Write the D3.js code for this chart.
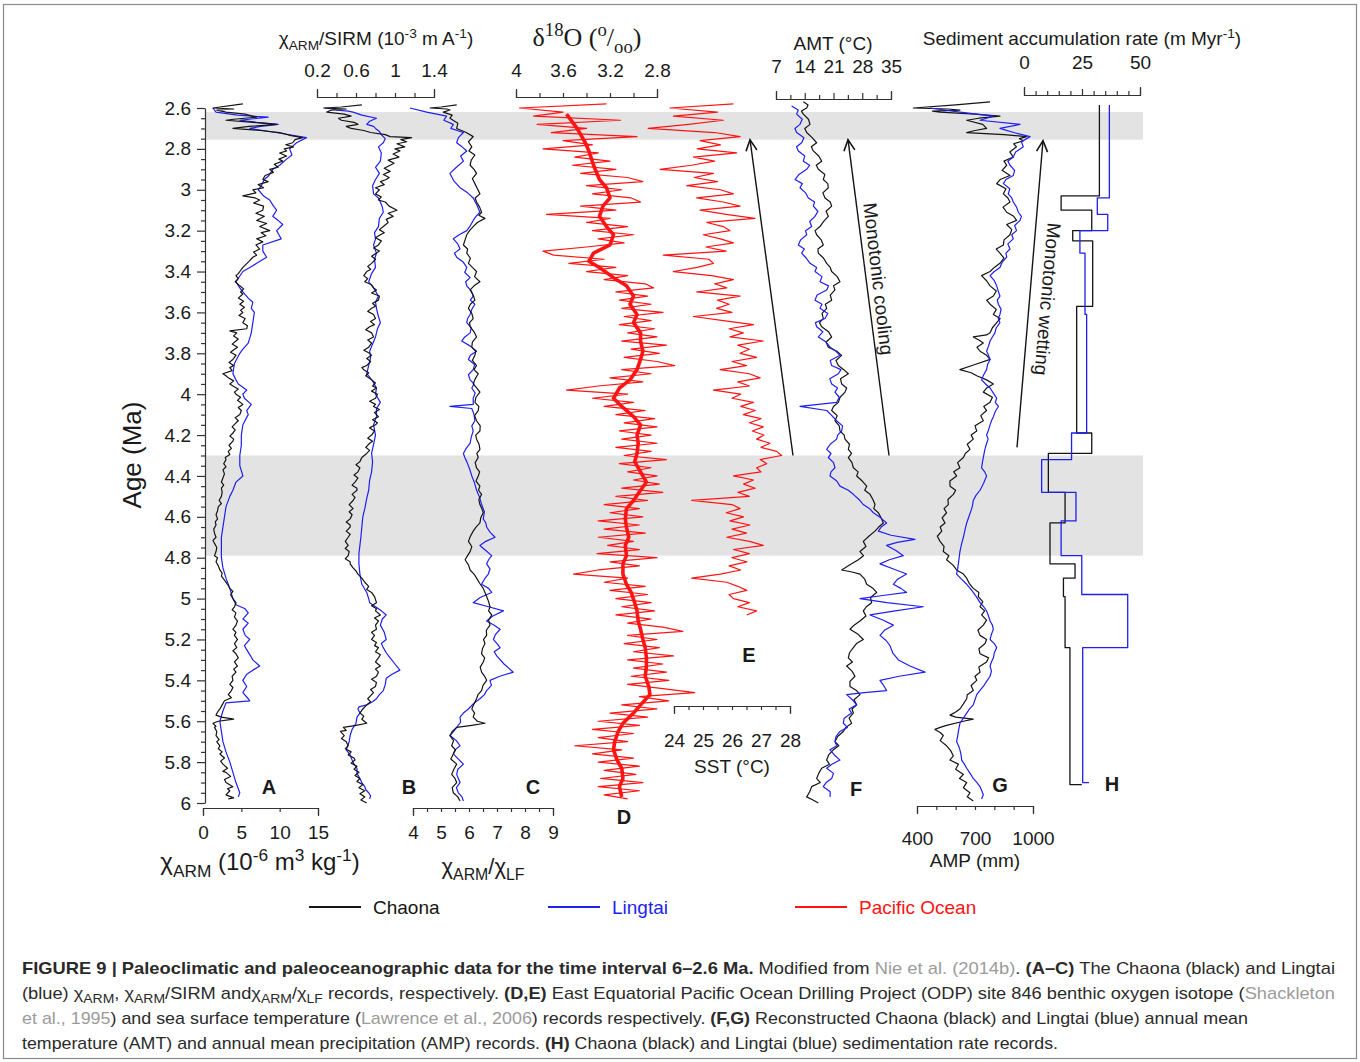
<!DOCTYPE html>
<html>
<head>
<meta charset="utf-8">
<script src="https://cdn.jsdelivr.net/npm/d3@7"></script>
<style>
  body { margin: 0; background: #fff; }
  svg { display: block; }
  text { font-family: "Liberation Sans", Arial, Helvetica, sans-serif; fill: #1a1a1a; }
</style>
</head>
<body>
<svg id="fig" width="1360" height="1062"></svg>
<script>
// ---------------------------------------------------------------
// Records, 6–2.6 Ma.  Each record: [age (Ma), value]
// ---------------------------------------------------------------

// (A) χARM, 10^-6 m3 kg-1
const chaonaARM = [[2.58,5.2],[2.60,1.3],[2.605,4.0],[2.61,1.8],[2.62,3.0],[2.63,5.5],[2.645,7.0],[2.655,4.0],[2.66,3.0],[2.67,6.5],[2.68,9.6],[2.69,6.0],[2.70,3.9],[2.71,7.5],[2.72,10.0],[2.735,11.5],[2.745,13.0],[2.755,12.0],[2.77,11.7],[2.78,10.8],[2.79,11.8],[2.80,10.6],[2.81,10.9],[2.82,10.0],[2.835,10.9],[2.85,9.9],[2.86,10.4],[2.875,9.3],[2.89,9.8],[2.90,8.7],[2.915,9.2],[2.93,8.1],[2.95,7.8],[2.96,8.5],[2.975,7.2],[2.99,7.9],[3.0,6.5],[3.015,6.9],[3.03,5.2],[3.04,6.8],[3.05,7.4],[3.065,6.6],[3.08,7.9],[3.10,7.8],[3.115,6.9],[3.13,8.0],[3.15,7.0],[3.165,8.3],[3.18,7.4],[3.20,8.7],[3.21,7.6],[3.225,8.2],[3.24,7.0],[3.255,7.8],[3.27,6.9],[3.29,7.4],[3.305,6.6],[3.32,7.0],[3.33,6.5],[3.35,6.0],[3.365,5.6],[3.38,5.2],[3.395,4.9],[3.41,4.6],[3.42,4.3],[3.435,4.6],[3.45,4.2],[3.47,4.8],[3.485,5.3],[3.50,4.9],[3.51,5.2],[3.53,4.6],[3.545,5.3],[3.56,4.8],[3.575,5.4],[3.59,4.9],[3.60,5.2],[3.615,4.7],[3.63,5.5],[3.65,5.2],[3.665,5.8],[3.68,5.7],[3.69,3.5],[3.70,4.4],[3.715,4.0],[3.73,4.6],[3.74,4.3],[3.755,3.8],[3.77,4.5],[3.78,4.1],[3.795,3.6],[3.81,4.3],[3.83,3.9],[3.845,3.4],[3.86,4.0],[3.87,3.5],[3.885,3.8],[3.90,2.6],[3.91,3.0],[3.92,3.3],[3.935,4.0],[3.95,3.5],[3.96,3.9],[3.975,4.6],[3.99,4.1],[4.0,4.3],[4.015,4.9],[4.03,4.5],[4.05,5.2],[4.065,4.6],[4.08,5.0],[4.1,4.8],[4.115,4.2],[4.13,4.6],[4.14,4.3],[4.16,3.8],[4.175,4.2],[4.19,3.9],[4.205,3.5],[4.22,4.0],[4.23,3.9],[4.25,3.4],[4.265,3.7],[4.28,3.3],[4.295,3.5],[4.31,2.9],[4.32,3.0],[4.34,2.7],[4.355,3.0],[4.37,2.6],[4.39,2.8],[4.41,2.6],[4.43,2.4],[4.445,2.7],[4.46,2.4],[4.48,2.5],[4.50,2.4],[4.52,2.1],[4.535,2.4],[4.55,2.0],[4.57,1.9],[4.59,1.7],[4.61,1.9],[4.625,1.6],[4.64,1.7],[4.66,1.4],[4.68,1.5],[4.70,1.7],[4.715,1.3],[4.73,1.5],[4.75,1.8],[4.77,1.7],[4.79,1.5],[4.80,1.9],[4.82,1.7],[4.84,2.0],[4.86,2.2],[4.875,2.5],[4.89,2.4],[4.91,2.8],[4.93,3.2],[4.95,3.5],[4.965,3.9],[4.98,3.6],[5.0,3.9],[5.02,4.3],[5.04,4.1],[5.055,3.8],[5.07,4.3],[5.09,4.1],[5.11,4.5],[5.13,4.3],[5.15,3.9],[5.165,4.3],[5.18,4.1],[5.20,4.5],[5.22,4.1],[5.24,4.4],[5.255,3.9],[5.27,4.3],[5.29,4.6],[5.31,4.1],[5.33,4.5],[5.345,4.0],[5.36,4.3],[5.38,3.8],[5.40,3.9],[5.42,3.5],[5.435,3.9],[5.45,3.7],[5.47,3.3],[5.485,3.7],[5.50,2.8],[5.52,2.5],[5.54,2.2],[5.555,1.9],[5.57,1.7],[5.58,2.4],[5.59,4.0],[5.60,2.0],[5.61,1.3],[5.625,1.7],[5.63,1.5],[5.65,1.8],[5.67,1.7],[5.69,2.1],[5.70,1.8],[5.72,2.2],[5.735,2.0],[5.75,2.5],[5.76,2.2],[5.78,2.8],[5.795,2.3],[5.81,2.6],[5.83,3.2],[5.845,2.6],[5.85,3.0],[5.87,3.6],[5.885,2.8],[5.90,3.0],[5.92,3.9],[5.93,3.2],[5.94,3.5],[5.96,3.0],[5.975,4.0],[5.98,3.3]];
const lingtaiARM = [[2.60,1.3],[2.62,1.7],[2.635,4.5],[2.645,8.5],[2.655,6.0],[2.66,4.8],[2.67,7.0],[2.68,9.8],[2.69,7.5],[2.70,6.1],[2.72,9.5],[2.745,13.5],[2.77,12.2],[2.80,11.3],[2.83,11.6],[2.85,10.9],[2.88,10.0],[2.9,9.1],[2.93,8.6],[2.95,8.0],[2.98,7.6],[3.0,7.2],[3.03,7.9],[3.05,8.7],[3.08,9.2],[3.1,9.6],[3.13,9.1],[3.15,9.8],[3.17,10.4],[3.2,9.6],[3.22,9.9],[3.24,10.2],[3.27,7.8],[3.3,7.8],[3.33,8.3],[3.36,7.0],[3.38,6.1],[3.4,5.2],[3.45,4.3],[3.48,4.8],[3.5,5.2],[3.53,5.9],[3.55,6.5],[3.58,6.3],[3.6,6.7],[3.65,6.5],[3.7,6.3],[3.75,5.9],[3.78,5.2],[3.8,4.8],[3.85,4.1],[3.9,3.9],[3.93,4.3],[3.95,4.6],[3.98,5.7],[4.0,5.2],[4.02,5.4],[4.05,6.3],[4.08,5.7],[4.1,5.9],[4.15,5.2],[4.2,5.0],[4.25,5.0],[4.3,4.8],[4.35,4.8],[4.4,5.2],[4.43,4.3],[4.47,3.9],[4.5,3.5],[4.55,3.0],[4.6,2.8],[4.65,2.6],[4.7,2.4],[4.75,2.4],[4.8,2.4],[4.85,2.6],[4.9,3.0],[4.95,3.5],[5.0,3.9],[5.03,4.3],[5.05,5.5],[5.07,5.9],[5.1,5.2],[5.12,5.9],[5.15,5.2],[5.18,5.5],[5.2,6.1],[5.23,5.4],[5.25,5.7],[5.28,6.2],[5.3,6.5],[5.33,7.4],[5.35,6.5],[5.37,5.7],[5.4,5.2],[5.43,5.7],[5.46,5.2],[5.49,5.9],[5.5,6.1],[5.51,3.0],[5.55,2.6],[5.6,2.2],[5.65,2.4],[5.7,2.6],[5.75,3.0],[5.8,3.5],[5.85,3.9],[5.9,4.3],[5.93,4.6],[5.95,4.8],[5.97,4.6]];

// (B) χARM/SIRM, 10^-3 m A-1
const chaonaSIRM = [[2.585,0.66],[2.595,0.45],[2.60,0.27],[2.605,0.50],[2.61,0.35],[2.62,0.30],[2.63,0.48],[2.64,0.55],[2.65,0.42],[2.66,0.45],[2.67,0.58],[2.68,0.62],[2.69,0.50],[2.70,0.55],[2.71,0.68],[2.72,0.75],[2.73,0.90],[2.74,0.95],[2.745,1.17],[2.755,1.06],[2.765,1.12],[2.775,1.02],[2.79,1.10],[2.80,1.00],[2.81,1.05],[2.825,0.98],[2.84,1.04],[2.855,0.93],[2.87,0.99],[2.88,0.95],[2.895,0.89],[2.91,0.95],[2.925,0.88],[2.94,0.94],[2.95,0.91],[2.96,0.85],[2.975,0.89],[2.99,0.80],[3.00,0.84],[3.02,0.80],[3.035,0.86],[3.05,0.83],[3.06,0.90],[3.08,0.94],[3.10,1.02],[3.115,0.93],[3.13,0.98],[3.145,0.91],[3.16,0.93],[3.18,0.88],[3.195,0.84],[3.21,0.89],[3.22,0.85],[3.235,0.80],[3.25,0.86],[3.27,0.83],[3.285,0.78],[3.30,0.84],[3.31,0.81],[3.325,0.76],[3.34,0.80],[3.36,0.76],[3.375,0.72],[3.39,0.75],[3.40,0.71],[3.42,0.68],[3.435,0.72],[3.45,0.69],[3.465,0.76],[3.48,0.78],[3.49,0.81],[3.505,0.76],[3.52,0.84],[3.54,0.83],[3.555,0.77],[3.57,0.80],[3.58,0.76],[3.595,0.72],[3.61,0.78],[3.63,0.80],[3.645,0.75],[3.66,0.79],[3.67,0.74],[3.685,0.70],[3.70,0.76],[3.72,0.78],[3.735,0.72],[3.75,0.76],[3.77,0.73],[3.785,0.68],[3.80,0.74],[3.81,0.76],[3.825,0.71],[3.84,0.75],[3.86,0.71],[3.87,0.66],[3.88,0.68],[3.895,0.73],[3.91,0.70],[3.93,0.76],[3.945,0.80],[3.96,0.77],[3.97,0.81],[3.985,0.76],[4.00,0.82],[4.02,0.80],[4.035,0.74],[4.05,0.80],[4.06,0.78],[4.075,0.84],[4.09,0.79],[4.11,0.83],[4.125,0.77],[4.14,0.82],[4.15,0.80],[4.165,0.74],[4.18,0.79],[4.20,0.76],[4.215,0.72],[4.23,0.77],[4.24,0.74],[4.26,0.70],[4.275,0.74],[4.29,0.71],[4.31,0.66],[4.33,0.64],[4.345,0.60],[4.36,0.64],[4.38,0.62],[4.395,0.58],[4.41,0.62],[4.43,0.59],[4.445,0.56],[4.46,0.61],[4.47,0.61],[4.49,0.56],[4.505,0.59],[4.52,0.57],[4.54,0.53],[4.56,0.57],[4.575,0.53],[4.59,0.56],[4.61,0.54],[4.625,0.50],[4.64,0.54],[4.65,0.54],[4.67,0.50],[4.685,0.54],[4.70,0.52],[4.72,0.49],[4.74,0.52],[4.755,0.49],[4.77,0.53],[4.79,0.52],[4.805,0.49],[4.82,0.54],[4.83,0.54],[4.85,0.57],[4.865,0.60],[4.88,0.62],[4.90,0.66],[4.92,0.69],[4.94,0.73],[4.955,0.71],[4.97,0.76],[4.99,0.79],[5.02,0.81],[5.035,0.76],[5.05,0.81],[5.06,0.80],[5.08,0.85],[5.095,0.79],[5.11,0.83],[5.13,0.80],[5.15,0.81],[5.165,0.76],[5.18,0.79],[5.20,0.76],[5.215,0.81],[5.23,0.79],[5.24,0.83],[5.26,0.80],[5.275,0.85],[5.29,0.83],[5.31,0.80],[5.33,0.85],[5.345,0.80],[5.36,0.83],[5.38,0.81],[5.395,0.76],[5.41,0.81],[5.43,0.80],[5.445,0.75],[5.46,0.78],[5.47,0.76],[5.49,0.72],[5.505,0.75],[5.52,0.71],[5.54,0.67],[5.56,0.64],[5.575,0.68],[5.59,0.66],[5.61,0.71],[5.62,0.60],[5.63,0.47],[5.645,0.50],[5.65,0.44],[5.67,0.48],[5.685,0.45],[5.70,0.50],[5.72,0.52],[5.735,0.49],[5.75,0.55],[5.765,0.52],[5.78,0.58],[5.79,0.59],[5.805,0.55],[5.82,0.61],[5.835,0.58],[5.85,0.63],[5.865,0.59],[5.88,0.64],[5.895,0.61],[5.91,0.67],[5.925,0.63],[5.94,0.69],[5.955,0.64],[5.97,0.69],[5.985,0.65],[6.00,0.71]];
const lingtaiSIRM = [[2.60,0.28],[2.605,0.36],[2.61,0.40],[2.615,0.52],[2.62,0.57],[2.635,0.66],[2.65,0.81],[2.665,0.74],[2.68,0.71],[2.69,0.78],[2.70,0.80],[2.715,0.84],[2.73,0.86],[2.75,0.90],[2.77,0.88],[2.79,0.83],[2.82,0.86],[2.86,0.85],[2.89,0.80],[2.92,0.84],[2.95,0.80],[2.98,0.77],[3.02,0.78],[3.04,0.83],[3.06,0.85],[3.085,0.87],[3.11,0.88],[3.14,0.84],[3.18,0.83],[3.21,0.79],[3.24,0.80],[3.27,0.78],[3.31,0.81],[3.34,0.79],[3.38,0.80],[3.41,0.76],[3.45,0.73],[3.48,0.78],[3.52,0.83],[3.55,0.80],[3.58,0.81],[3.62,0.83],[3.65,0.85],[3.68,0.82],[3.72,0.80],[3.755,0.77],[3.79,0.74],[3.82,0.75],[3.86,0.73],[3.90,0.71],[3.935,0.77],[3.97,0.81],[4.00,0.80],[4.04,0.85],[4.07,0.81],[4.11,0.81],[4.15,0.78],[4.20,0.80],[4.245,0.78],[4.29,0.76],[4.33,0.77],[4.38,0.76],[4.42,0.74],[4.47,0.73],[4.51,0.71],[4.56,0.69],[4.60,0.67],[4.65,0.66],[4.70,0.65],[4.74,0.64],[4.78,0.63],[4.83,0.63],[4.88,0.64],[4.93,0.66],[4.97,0.71],[5.00,0.73],[5.02,0.74],[5.04,0.80],[5.06,0.86],[5.08,0.91],[5.10,0.87],[5.13,0.85],[5.165,0.89],[5.20,0.91],[5.22,0.86],[5.24,0.88],[5.265,0.91],[5.29,0.95],[5.32,1.00],[5.35,1.05],[5.37,0.97],[5.39,0.91],[5.42,0.90],[5.45,0.88],[5.47,0.84],[5.49,0.81],[5.505,0.77],[5.52,0.71],[5.53,0.63],[5.54,0.62],[5.56,0.64],[5.58,0.61],[5.61,0.60],[5.64,0.56],[5.67,0.54],[5.70,0.53],[5.74,0.50],[5.765,0.54],[5.79,0.56],[5.81,0.58],[5.83,0.61],[5.855,0.61],[5.88,0.64],[5.90,0.66],[5.92,0.69],[5.935,0.70],[5.95,0.73],[5.965,0.75],[5.98,0.74]];

// (C) χARM/χLF
const chaonaLF = [[2.585,5.56],[2.595,5.0],[2.60,4.61],[2.605,5.2],[2.61,5.32],[2.62,5.08],[2.635,5.4],[2.65,5.32],[2.675,5.6],[2.70,5.56],[2.72,5.9],[2.74,6.15],[2.765,5.98],[2.79,6.10],[2.81,6.0],[2.83,6.21],[2.855,6.08],[2.88,6.04],[2.90,6.18],[2.92,6.27],[2.945,6.12],[2.97,6.21],[2.995,6.30],[3.02,6.39],[3.04,6.22],[3.06,6.27],[3.085,6.38],[3.11,6.45],[3.125,6.35],[3.14,6.57],[3.16,6.30],[3.18,6.15],[3.20,6.02],[3.22,5.92],[3.245,5.86],[3.27,5.80],[3.29,5.95],[3.31,5.92],[3.335,6.05],[3.36,5.98],[3.38,6.12],[3.40,6.27],[3.425,6.20],[3.45,6.39],[3.47,6.18],[3.49,6.04],[3.515,6.15],[3.54,6.21],[3.56,6.05],[3.58,5.98],[3.605,6.10],[3.63,6.15],[3.65,6.02],[3.67,6.04],[3.695,6.18],[3.72,6.27],[3.745,6.12],[3.77,6.10],[3.79,6.24],[3.81,6.21],[3.835,6.12],[3.86,6.27],[3.88,6.18],[3.90,6.33],[3.925,6.22],[3.95,6.15],[3.97,6.28],[3.99,6.39],[4.015,6.25],[4.04,6.21],[4.06,6.35],[4.08,6.33],[4.105,6.20],[4.13,6.27],[4.155,6.40],[4.18,6.39],[4.20,6.24],[4.22,6.27],[4.245,6.36],[4.27,6.39],[4.29,6.28],[4.31,6.33],[4.335,6.22],[4.36,6.27],[4.38,6.38],[4.40,6.33],[4.425,6.25],[4.45,6.39],[4.47,6.34],[4.49,6.45],[4.515,6.35],[4.54,6.39],[4.56,6.46],[4.58,6.51],[4.605,6.42],[4.63,6.39],[4.65,6.25],[4.67,6.15],[4.695,6.05],[4.72,5.98],[4.745,6.10],[4.77,6.04],[4.79,5.95],[4.81,5.86],[4.835,5.98],[4.86,6.04],[4.88,6.18],[4.90,6.27],[4.925,6.38],[4.95,6.51],[4.97,6.57],[4.99,6.63],[5.015,6.70],[5.04,6.75],[5.06,6.70],[5.08,6.81],[5.105,6.70],[5.13,6.75],[5.155,6.62],[5.18,6.63],[5.20,6.52],[5.22,6.57],[5.245,6.48],[5.27,6.45],[5.29,6.56],[5.31,6.51],[5.335,6.40],[5.36,6.45],[5.38,6.56],[5.40,6.63],[5.425,6.50],[5.45,6.45],[5.47,6.32],[5.49,6.27],[5.515,6.18],[5.54,6.10],[5.56,6.20],[5.58,6.15],[5.60,6.30],[5.61,6.57],[5.62,6.10],[5.63,5.56],[5.65,5.40],[5.67,5.32],[5.695,5.45],[5.72,5.38],[5.74,5.52],[5.76,5.44],[5.785,5.35],[5.81,5.56],[5.835,5.46],[5.86,5.38],[5.88,5.50],[5.90,5.56],[5.925,5.40],[5.95,5.44],[5.97,5.60],[5.99,5.68]];
const lingtaiLF = [[2.60,3.89],[2.62,4.49],[2.64,5.20],[2.66,5.10],[2.68,5.44],[2.70,5.35],[2.72,5.80],[2.745,5.62],[2.77,5.56],[2.79,5.75],[2.81,5.92],[2.835,5.70],[2.86,5.80],[2.89,5.55],[2.92,5.32],[2.955,5.45],[2.99,5.68],[3.015,5.95],[3.04,6.15],[3.075,6.28],[3.11,6.39],[3.13,6.25],[3.15,6.15],[3.175,6.05],[3.20,5.92],[3.22,5.65],[3.24,5.44],[3.265,5.60],[3.29,5.68],[3.31,5.48],[3.33,5.56],[3.355,5.80],[3.38,5.92],[3.405,5.85],[3.43,6.04],[3.45,5.88],[3.47,5.92],[3.495,6.08],[3.52,6.15],[3.54,6.05],[3.56,6.21],[3.585,6.10],[3.61,6.04],[3.63,5.95],[3.65,5.92],[3.675,6.08],[3.70,6.04],[3.72,5.85],[3.74,5.74],[3.765,6.05],[3.79,6.27],[3.81,6.05],[3.83,5.98],[3.855,6.20],[3.88,6.15],[3.905,5.98],[3.93,6.04],[3.95,6.18],[3.97,6.10],[3.995,6.22],[4.02,6.15],[4.05,6.15],[4.06,5.32],[4.07,6.10],[4.10,6.18],[4.13,6.21],[4.155,6.10],[4.18,6.15],[4.21,6.08],[4.24,6.04],[4.265,5.90],[4.29,5.80],[4.31,5.85],[4.33,5.92],[4.365,6.02],[4.40,6.10],[4.435,6.20],[4.47,6.27],[4.505,6.38],[4.54,6.45],[4.575,6.55],[4.61,6.51],[4.63,6.60],[4.65,6.63],[4.675,6.75],[4.70,6.93],[4.72,6.60],[4.74,6.39],[4.765,6.60],[4.79,6.81],[4.81,6.70],[4.83,6.63],[4.855,6.75],[4.88,6.69],[4.905,6.55],[4.93,6.45],[4.95,6.70],[4.97,6.81],[4.995,6.40],[5.02,6.15],[5.04,6.70],[5.06,7.23],[5.085,6.85],[5.11,6.63],[5.13,6.90],[5.15,7.11],[5.175,6.95],[5.20,6.87],[5.22,7.00],[5.24,7.11],[5.26,6.90],[5.28,6.99],[5.32,7.25],[5.36,7.58],[5.38,7.10],[5.40,6.75],[5.425,6.80],[5.45,6.63],[5.47,6.55],[5.49,6.39],[5.515,6.15],[5.54,5.98],[5.56,5.80],[5.58,5.68],[5.605,5.70],[5.63,5.56],[5.65,5.45],[5.67,5.32],[5.695,5.55],[5.72,5.68],[5.74,5.50],[5.76,5.44],[5.785,5.62],[5.81,5.80],[5.835,5.60],[5.86,5.56],[5.88,5.62],[5.90,5.68],[5.925,5.55],[5.95,5.62],[5.97,5.75],[5.99,5.80]];

// (D) ODP 846 benthic δ18O (‰): measured record and its running mean
const d18oRaw = [[2.58,3.23],[2.60,3.97],[2.62,3.60],[2.64,3.85],[2.66,3.11],[2.68,3.82],[2.70,3.40],[2.72,3.70],[2.74,2.97],[2.76,3.60],[2.78,3.35],[2.80,3.77],[2.82,3.30],[2.84,3.50],[2.86,3.20],[2.88,3.52],[2.90,3.15],[2.92,3.45],[2.94,3.05],[2.96,2.92],[2.98,3.40],[3.00,3.10],[3.02,3.35],[3.04,3.02],[3.06,2.94],[3.08,3.45],[3.10,3.15],[3.12,3.74],[3.14,3.20],[3.16,3.40],[3.18,3.05],[3.20,3.35],[3.22,3.00],[3.24,3.30],[3.26,3.08],[3.28,3.40],[3.30,3.77],[3.32,3.68],[3.34,3.25],[3.36,3.55],[3.38,3.15],[3.40,3.40],[3.42,3.05],[3.44,3.25],[3.46,2.90],[3.48,2.83],[3.50,3.15],[3.52,2.88],[3.54,3.12],[3.56,2.85],[3.58,3.10],[3.60,2.75],[3.62,3.08],[3.64,2.85],[3.66,3.12],[3.68,2.82],[3.70,3.05],[3.72,2.80],[3.74,3.10],[3.76,2.72],[3.78,3.02],[3.80,2.78],[3.82,3.08],[3.84,2.80],[3.86,2.65],[3.88,3.10],[3.90,2.85],[3.92,3.20],[3.94,2.92],[3.96,3.30],[3.98,3.57],[4.00,3.05],[4.02,3.35],[4.04,3.00],[4.06,3.25],[4.08,2.90],[4.10,3.15],[4.12,2.82],[4.14,3.08],[4.16,2.80],[4.18,3.12],[4.20,2.85],[4.22,3.10],[4.24,2.80],[4.26,3.15],[4.28,2.85],[4.30,3.08],[4.32,2.72],[4.34,3.12],[4.36,2.85],[4.38,3.05],[4.40,2.80],[4.42,3.00],[4.44,2.78],[4.46,3.10],[4.48,2.75],[4.50,3.15],[4.52,2.88],[4.54,3.25],[4.56,2.95],[4.58,3.20],[4.60,2.92],[4.62,3.30],[4.64,2.95],[4.66,3.25],[4.68,2.90],[4.70,3.30],[4.72,3.00],[4.74,3.22],[4.76,2.95],[4.78,3.31],[4.80,2.80],[4.82,3.20],[4.84,2.95],[4.86,3.30],[4.88,3.51],[4.90,3.05],[4.92,3.25],[4.94,2.90],[4.96,3.20],[4.98,2.88],[5.00,3.15],[5.02,2.85],[5.04,3.10],[5.06,2.82],[5.08,3.15],[5.10,2.85],[5.12,3.05],[5.14,2.75],[5.16,2.58],[5.18,3.05],[5.20,2.80],[5.22,3.08],[5.24,2.78],[5.26,3.00],[5.28,2.66],[5.30,3.05],[5.32,2.75],[5.34,3.00],[5.36,2.72],[5.38,3.02],[5.40,2.70],[5.42,3.05],[5.44,2.75],[5.46,2.48],[5.48,2.95],[5.50,2.70],[5.52,3.10],[5.54,2.80],[5.56,3.20],[5.58,2.88],[5.60,3.30],[5.62,2.95],[5.64,3.35],[5.66,3.00],[5.68,3.30],[5.70,3.05],[5.72,3.50],[5.74,3.10],[5.76,3.35],[5.78,3.00],[5.80,3.30],[5.82,2.95],[5.84,3.25],[5.86,2.98],[5.88,3.28],[5.90,2.92],[5.92,3.30],[5.94,2.95],[5.96,3.25],[5.98,3.05]];
const d18oMean = [[2.63,3.57],[2.70,3.48],[2.77,3.41],[2.81,3.38],[2.88,3.34],[2.95,3.29],[2.99,3.23],[3.04,3.20],[3.08,3.26],[3.13,3.29],[3.18,3.23],[3.22,3.17],[3.27,3.20],[3.31,3.34],[3.35,3.38],[3.38,3.29],[3.43,3.17],[3.47,3.06],[3.52,3.00],[3.56,3.03],[3.61,2.97],[3.65,3.00],[3.70,2.94],[3.74,2.94],[3.79,2.92],[3.83,2.94],[3.88,2.97],[3.93,3.03],[3.97,3.12],[4.02,3.17],[4.06,3.10],[4.11,3.00],[4.15,2.94],[4.20,2.97],[4.24,2.96],[4.29,2.97],[4.33,2.99],[4.38,2.94],[4.43,2.89],[4.47,2.94],[4.52,3.00],[4.56,3.06],[4.61,3.07],[4.65,3.06],[4.70,3.04],[4.74,3.07],[4.79,3.06],[4.83,3.09],[4.88,3.09],[4.93,3.06],[4.97,3.02],[5.02,2.99],[5.06,2.97],[5.11,2.96],[5.15,2.94],[5.20,2.92],[5.24,2.90],[5.29,2.89],[5.33,2.89],[5.38,2.90],[5.43,2.87],[5.47,2.86],[5.52,2.94],[5.56,3.00],[5.61,3.09],[5.65,3.13],[5.70,3.16],[5.74,3.17],[5.79,3.14],[5.83,3.10],[5.88,3.09],[5.92,3.12],[5.97,3.10]];

// (E) ODP 846 sea surface temperature (°C)
const sst = [[2.58,26.05],[2.60,23.86],[2.62,25.50],[2.64,23.98],[2.66,25.70],[2.68,24.50],[2.70,23.11],[2.72,25.40],[2.74,26.28],[2.76,24.90],[2.78,25.60],[2.80,24.80],[2.82,26.16],[2.84,24.67],[2.86,25.40],[2.88,24.60],[2.90,23.52],[2.92,25.36],[2.94,24.70],[2.96,25.50],[2.98,24.44],[3.00,25.60],[3.02,26.05],[3.04,24.78],[3.06,25.70],[3.08,26.28],[3.10,24.90],[3.12,25.80],[3.14,26.79],[3.16,25.13],[3.18,25.70],[3.20,25.93],[3.22,25.01],[3.24,25.60],[3.26,26.05],[3.28,25.10],[3.30,25.80],[3.32,23.63],[3.34,25.20],[3.36,25.36],[3.38,24.80],[3.40,23.98],[3.42,25.30],[3.44,26.05],[3.46,25.40],[3.48,25.82],[3.50,24.78],[3.52,26.28],[3.54,25.50],[3.56,25.90],[3.58,25.47],[3.60,26.00],[3.62,24.67],[3.64,25.70],[3.66,26.74],[3.68,25.90],[3.70,26.39],[3.72,25.93],[3.74,27.08],[3.76,26.20],[3.78,26.60],[3.80,26.28],[3.82,26.85],[3.84,26.00],[3.86,26.50],[3.88,25.59],[3.90,26.60],[3.92,26.97],[3.94,26.20],[3.96,26.60],[3.98,25.36],[4.00,26.30],[4.02,26.00],[4.04,26.74],[4.06,26.30],[4.08,26.80],[4.10,26.39],[4.12,27.00],[4.14,26.60],[4.16,27.08],[4.18,26.70],[4.20,27.10],[4.22,26.85],[4.24,27.31],[4.26,27.00],[4.28,27.54],[4.30,27.71],[4.32,26.97],[4.34,27.20],[4.36,26.85],[4.38,27.00],[4.40,26.05],[4.42,26.74],[4.44,26.40],[4.46,26.80],[4.48,26.20],[4.50,26.60],[4.52,24.61],[4.54,26.00],[4.56,26.28],[4.58,25.80],[4.60,26.40],[4.62,25.93],[4.64,26.62],[4.66,26.00],[4.68,26.50],[4.70,25.82],[4.72,26.60],[4.74,27.08],[4.76,26.05],[4.78,26.60],[4.80,26.00],[4.82,26.51],[4.84,25.90],[4.86,26.30],[4.88,25.60],[4.90,24.61],[4.92,25.82],[4.94,26.20],[4.96,26.51],[4.98,25.90],[5.00,26.05],[5.02,26.60],[5.04,26.20],[5.06,26.85],[5.08,26.51]];

// (F) Annual mean temperature (°C)
const chaonaAMT = [[2.57,13.66],[2.585,14.8],[2.60,14.47],[2.615,13.2],[2.63,13.66],[2.655,14.9],[2.68,15.28],[2.70,14.0],[2.72,14.47],[2.745,15.8],[2.77,16.9],[2.79,15.6],[2.81,16.09],[2.835,17.4],[2.86,18.12],[2.88,16.8],[2.90,17.31],[2.925,18.9],[2.95,18.52],[2.97,19.6],[2.99,19.74],[3.015,18.4],[3.04,18.93],[3.06,20.2],[3.08,20.55],[3.105,19.2],[3.13,19.74],[3.155,18.6],[3.18,17.71],[3.20,16.5],[3.22,16.9],[3.245,18.0],[3.27,18.52],[3.29,17.2],[3.31,17.31],[3.335,18.6],[3.36,19.34],[3.38,20.2],[3.40,20.55],[3.425,21.9],[3.45,22.58],[3.47,21.0],[3.49,21.36],[3.515,20.2],[3.54,20.55],[3.56,19.0],[3.58,19.34],[3.605,18.2],[3.63,18.52],[3.65,17.6],[3.67,18.12],[3.695,19.8],[3.72,20.55],[3.745,19.2],[3.77,19.74],[3.79,21.8],[3.81,22.99],[3.835,21.6],[3.86,22.18],[3.88,23.5],[3.90,24.61],[3.925,22.7],[3.95,22.99],[3.97,24.2],[3.99,23.8],[4.015,22.6],[4.04,22.18],[4.06,21.0],[4.08,20.55],[4.105,21.9],[4.13,21.36],[4.155,22.4],[4.18,22.58],[4.20,23.6],[4.22,23.8],[4.245,24.9],[4.27,24.61],[4.29,25.4],[4.31,24.61],[4.335,25.5],[4.36,25.83],[4.38,27.0],[4.40,26.64],[4.425,28.0],[4.45,29.08],[4.47,28.6],[4.49,29.89],[4.515,30.6],[4.54,31.1],[4.56,30.8],[4.58,31.92],[4.605,32.6],[4.63,33.13],[4.65,32.0],[4.67,31.1],[4.695,29.6],[4.72,28.26],[4.745,28.9],[4.77,27.45],[4.79,28.3],[4.81,27.05],[4.835,25.0],[4.86,22.99],[4.87,25.5],[4.88,27.45],[4.905,28.6],[4.93,29.08],[4.95,30.6],[4.97,31.51],[4.995,30.0],[5.02,30.29],[5.04,29.0],[5.06,28.26],[5.085,28.9],[5.11,27.45],[5.13,26.0],[5.15,25.02],[5.175,27.0],[5.20,28.26],[5.22,26.6],[5.24,25.83],[5.265,24.9],[5.29,24.61],[5.31,25.6],[5.33,24.2],[5.355,25.5],[5.38,26.23],[5.405,25.0],[5.43,25.02],[5.45,26.6],[5.47,27.45],[5.495,26.0],[5.52,26.64],[5.54,25.5],[5.56,25.83],[5.585,24.8],[5.61,25.42],[5.63,24.0],[5.65,23.39],[5.675,22.0],[5.70,21.36],[5.72,22.3],[5.74,20.96],[5.765,19.8],[5.79,19.34],[5.81,20.0],[5.83,18.12],[5.855,17.4],[5.88,16.9],[5.90,17.8],[5.92,15.68],[5.945,15.2],[5.97,14.47],[5.985,16.0],[6.0,17.31]];
const lingtaiAMT = [[2.59,10.8],[2.61,12.4],[2.63,12.03],[2.655,13.4],[2.68,12.84],[2.70,11.6],[2.72,12.03],[2.745,13.8],[2.77,13.25],[2.79,12.0],[2.81,12.44],[2.835,14.0],[2.86,13.66],[2.88,15.2],[2.90,14.47],[2.925,12.6],[2.95,11.63],[2.97,13.4],[2.99,12.84],[3.015,14.2],[3.04,14.87],[3.06,16.4],[3.08,16.09],[3.105,17.2],[3.13,16.5],[3.155,15.2],[3.18,15.68],[3.20,14.2],[3.22,14.47],[3.245,13.0],[3.27,12.44],[3.29,13.9],[3.31,13.25],[3.335,14.4],[3.36,15.28],[3.38,16.9],[3.40,16.5],[3.425,18.2],[3.45,17.71],[3.47,19.8],[3.49,19.34],[3.515,17.0],[3.54,16.5],[3.56,18.2],[3.58,17.71],[3.605,19.6],[3.63,18.93],[3.65,16.6],[3.67,16.9],[3.695,18.4],[3.72,17.31],[3.745,19.2],[3.77,20.15],[3.79,21.6],[3.81,22.58],[3.835,20.2],[3.86,20.55],[3.88,22.8],[3.90,22.18],[3.925,20.1],[3.95,20.55],[3.97,22.0],[3.99,21.36],[4.015,22.4],[4.04,21.77],[4.06,12.84],[4.08,19.34],[4.105,20.6],[4.13,21.77],[4.155,23.2],[4.18,22.99],[4.20,22.0],[4.22,21.77],[4.245,20.2],[4.27,19.34],[4.29,20.4],[4.31,19.74],[4.335,21.0],[4.36,21.36],[4.38,20.4],[4.40,20.15],[4.425,21.8],[4.45,22.58],[4.47,24.6],[4.49,25.83],[4.515,27.2],[4.54,28.26],[4.56,29.8],[4.58,30.7],[4.605,32.5],[4.63,33.94],[4.65,32.6],[4.67,31.92],[4.69,35.0],[4.71,40.84],[4.725,36.5],[4.74,33.94],[4.765,36.2],[4.79,38.0],[4.81,34.6],[4.83,32.32],[4.855,35.6],[4.88,38.8],[4.905,36.6],[4.93,35.57],[4.95,37.4],[4.97,38.8],[4.985,33.0],[5.00,27.45],[5.02,34.0],[5.04,42.87],[5.06,36.0],[5.08,29.89],[5.105,33.0],[5.13,35.57],[5.155,33.4],[5.18,32.32],[5.205,33.8],[5.23,34.76],[5.265,35.4],[5.30,36.8],[5.33,39.6],[5.36,43.28],[5.38,37.0],[5.40,32.32],[5.425,33.2],[5.45,33.94],[5.46,28.5],[5.47,24.2],[5.495,25.6],[5.52,26.64],[5.54,24.8],[5.56,25.42],[5.585,23.6],[5.61,23.39],[5.63,24.4],[5.65,22.58],[5.675,21.6],[5.70,21.36],[5.72,21.8],[5.74,20.15],[5.765,21.2],[5.79,22.58],[5.81,20.6],[5.83,19.34],[5.855,21.0],[5.88,20.55],[5.90,19.2],[5.92,18.52],[5.945,20.2],[5.97,20.15]];

// (G) Annual mean precipitation (mm)
const chaonaAMP = [[2.57,778],[2.585,600],[2.60,381],[2.605,560],[2.61,622],[2.615,480],[2.62,519],[2.63,700],[2.64,829],[2.65,720],[2.66,657],[2.68,740],[2.70,760],[2.71,700],[2.72,657],[2.73,850],[2.74,967],[2.75,930],[2.76,950],[2.775,900],[2.79,915],[2.815,880],[2.84,898],[2.86,850],[2.88,864],[2.905,840],[2.93,881],[2.95,830],[2.97,812],[2.995,860],[3.02,847],[3.04,870],[3.06,881],[3.085,845],[3.11,864],[3.13,900],[3.15,915],[3.17,864],[3.195,890],[3.22,881],[3.245,850],[3.27,847],[3.29,810],[3.31,829],[3.335,850],[3.36,829],[3.38,800],[3.40,778],[3.42,734],[3.445,760],[3.47,778],[3.495,810],[3.52,795],[3.54,760],[3.56,778],[3.585,810],[3.61,795],[3.63,830],[3.65,812],[3.675,790],[3.70,778],[3.71,760],[3.72,691],[3.735,720],[3.75,743],[3.77,710],[3.79,726],[3.81,760],[3.83,778],[3.855,700],[3.88,622],[3.895,680],[3.91,709],[3.93,760],[3.95,795],[3.97,760],[3.99,743],[4.015,790],[4.04,778],[4.06,745],[4.08,760],[4.105,730],[4.13,743],[4.155,700],[4.18,709],[4.20,680],[4.22,691],[4.245,660],[4.27,674],[4.29,650],[4.31,640],[4.335,610],[4.36,622],[4.38,590],[4.40,605],[4.425,570],[4.45,571],[4.47,600],[4.49,588],[4.515,560],[4.54,562],[4.56,540],[4.58,553],[4.605,530],[4.63,545],[4.65,520],[4.67,528],[4.695,505],[4.72,519],[4.745,540],[4.77,536],[4.79,565],[4.81,553],[4.835,585],[4.86,605],[4.88,640],[4.90,657],[4.925,670],[4.95,691],[4.97,720],[4.99,717],[5.015,740],[5.04,726],[5.06,750],[5.08,734],[5.105,760],[5.13,743],[5.155,715],[5.18,726],[5.20,760],[5.22,752],[5.245,720],[5.27,726],[5.29,770],[5.31,760],[5.335,720],[5.36,726],[5.38,700],[5.40,709],[5.425,680],[5.45,691],[5.47,660],[5.49,657],[5.515,640],[5.54,622],[5.555,600],[5.57,571],[5.58,600],[5.59,691],[5.60,640],[5.62,553],[5.63,520],[5.64,493],[5.655,520],[5.67,536],[5.695,520],[5.72,553],[5.745,575],[5.77,588],[5.79,570],[5.81,614],[5.835,600],[5.86,640],[5.88,620],[5.90,657],[5.925,640],[5.95,674],[5.97,660],[5.99,691]];
const lingtaiAMP = [[2.60,467],[2.62,622],[2.64,795],[2.66,726],[2.68,933],[2.70,829],[2.72,900],[2.74,985],[2.765,940],[2.79,950],[2.815,910],[2.84,898],[2.86,870],[2.88,881],[2.905,905],[2.93,898],[2.95,860],[2.97,847],[2.995,880],[3.02,872],[3.04,890],[3.06,898],[3.085,915],[3.11,924],[3.13,940],[3.15,933],[3.175,905],[3.20,915],[3.22,890],[3.24,898],[3.265,870],[3.29,881],[3.31,860],[3.33,864],[3.355,840],[3.38,829],[3.40,800],[3.42,778],[3.445,800],[3.47,812],[3.495,820],[3.52,829],[3.54,815],[3.56,821],[3.585,835],[3.61,829],[3.63,820],[3.65,829],[3.675,810],[3.70,803],[3.72,790],[3.74,778],[3.765,770],[3.79,760],[3.81,770],[3.83,778],[3.855,765],[3.88,760],[3.905,745],[3.93,734],[3.95,755],[3.97,778],[3.995,795],[4.02,812],[4.04,805],[4.06,821],[4.085,805],[4.11,795],[4.13,785],[4.15,778],[4.175,770],[4.20,760],[4.22,768],[4.24,760],[4.275,750],[4.31,743],[4.335,738],[4.36,734],[4.38,750],[4.40,760],[4.435,745],[4.47,726],[4.495,705],[4.52,691],[4.54,688],[4.56,683],[4.595,670],[4.63,657],[4.665,648],[4.70,640],[4.735,630],[4.77,622],[4.80,618],[4.83,614],[4.855,610],[4.88,605],[4.905,630],[4.93,657],[4.95,675],[4.97,691],[4.995,710],[5.02,726],[5.04,745],[5.06,760],[5.085,770],[5.11,778],[5.13,790],[5.15,795],[5.175,785],[5.20,778],[5.22,800],[5.24,812],[5.265,800],[5.29,795],[5.31,785],[5.33,778],[5.355,785],[5.38,778],[5.405,760],[5.43,743],[5.45,725],[5.47,709],[5.495,700],[5.52,691],[5.54,672],[5.56,657],[5.585,640],[5.61,622],[5.63,618],[5.65,614],[5.675,610],[5.70,605],[5.72,615],[5.74,622],[5.765,628],[5.79,631],[5.81,645],[5.83,657],[5.855,675],[5.88,691],[5.90,710],[5.92,726],[5.94,735],[5.96,743],[5.98,734]];

// (H) Sediment accumulation rate (m Myr-1): [top age, base age, rate]
const chaonaRate = [[2.585,3.03,32.5],[3.03,3.10,16.0],[3.10,3.20,29.2],[3.20,3.25,21.0],[3.25,3.57,29.6],[3.57,4.19,22.7],[4.19,4.29,29.2],[4.29,4.48,10.5],[4.48,4.63,17.7],[4.63,4.83,11.2],[4.83,4.90,22.0],[4.90,4.99,17.0],[4.99,5.24,17.7],[5.24,5.91,19.8],[5.91,5.91,24.9]];
const lingtaiRate = [[2.585,3.04,36.8],[3.04,3.12,31.6],[3.12,3.20,36.1],[3.20,3.31,24.1],[3.31,3.61,26.3],[3.61,4.19,27.0],[4.19,4.32,20.5],[4.32,4.48,7.6],[4.48,4.62,22.4],[4.62,4.79,16.0],[4.79,4.98,24.9],[4.98,5.24,44.7],[5.24,5.90,25.3],[5.90,5.90,28.0]];

// Shaded intervals (Ma)
const shadedIntervals = [[2.62, 2.755], [4.3, 4.79]];

// Tick values
const ageMajorTicks = [2.6,2.8,3,3.2,3.4,3.6,3.8,4,4.2,4.4,4.6,4.8,5,5.2,5.4,5.6,5.8,6];
const armTicks = [0,5,10,15];
const sirmTicks = [0.2,0.4,0.6,0.8,1.0,1.2,1.4];
const sirmLabels = [0.2,0.6,1,1.4];
const lfTicks = [4,4.5,5,5.5,6,6.5,7,7.5,8,8.5,9];
const lfLabels = [4,5,6,7,8,9];
const d18oTicks = [4,3.8,3.6,3.4,3.2,3.0,2.8];
const d18oLabels = [4,3.6,3.2,2.8];
const sstTicks = [24,24.5,25,25.5,26,26.5,27,27.5,28];
const sstLabels = [24,25,26,27,28];
const amtTicks = [7,10.5,14,17.5,21,24.5,28,31.5,35];
const amtLabels = [7,14,21,28,35];
const ampTicks = [400,500,600,700,800,900,1000];
const ampLabels = [400,700,1000];
const rateTicks = [0,5,10,15,20,25,30,35,40,45,50];
const rateLabels = [0,25,50];

// ---------------------------------------------------------------
const BLACK = "#141414", BLUE = "#1f1ff0", RED = "#ff1414", AXIS = "#333";
const svg = d3.select("#fig");
svg.append("rect").attr("width", 1360).attr("height", 1062).attr("fill", "#fff");
svg.append("rect").attr("x", 3.5).attr("y", 4.5).attr("width", 1353).attr("height", 1054)
   .attr("fill", "none").attr("stroke", "#8a8a8a").attr("stroke-width", 1.2);

const y = d3.scaleLinear().domain([2.6, 6]).range([108, 803]);
const xA = d3.scaleLinear().domain([0, 15]).range([203, 318]);
const xB = d3.scaleLinear().domain([0.2, 1.4]).range([317, 434]);
const xC = d3.scaleLinear().domain([4, 9]).range([413, 553]);
const xD = d3.scaleLinear().domain([4, 2.8]).range([516, 657]);
const xE = d3.scaleLinear().domain([24, 28]).range([674, 790]);
const xF = d3.scaleLinear().domain([7, 35]).range([776, 891]);
const xG = d3.scaleLinear().domain([400, 1000]).range([917, 1033]);
const xH = d3.scaleLinear().domain([0, 50]).range([1024, 1140]);

// shaded bands
svg.append("g").selectAll("rect").data(shadedIntervals).join("rect")
  .attr("x", 205).attr("width", 1143 - 205)
  .attr("y", d => y(d[0])).attr("height", d => y(d[1]) - y(d[0]))
  .attr("fill", "#e3e3e3");

// ---- axes ----
const has = (arr, v) => arr.some(a => Math.abs(a - v) < 1e-9);
function styleAxis(g) {
  g.selectAll("path.domain").attr("stroke", AXIS).attr("stroke-width", 1.2);
  g.selectAll(".tick line").attr("stroke", AXIS).attr("stroke-width", 1.2);
  g.selectAll(".tick text").attr("fill", "#1a1a1a")
   .style("font-family", '"Liberation Sans", Arial, sans-serif').style("font-size", "19px");
}
function hAxis(scale, top, yPos, ticks, labels, pad, majors) {
  const ax = (top ? d3.axisTop(scale) : d3.axisBottom(scale))
    .tickValues(ticks).tickSizeOuter(0).tickSize(7).tickPadding(pad)
    .tickFormat(d => has(labels, d) ? d3.format("~g")(d) : "");
  const g = svg.append("g").attr("transform", `translate(0,${yPos})`).call(ax);
  styleAxis(g);
  // unlabelled ticks carry no text node
  g.selectAll(".tick text").filter(d => !has(labels, d)).remove();
  g.selectAll(".tick").each(function (d) {
    const isEnd = Math.abs(d - ticks[0]) < 1e-9 || Math.abs(d - ticks[ticks.length - 1]) < 1e-9;
    const len = isEnd ? 8 : (majors && has(majors, d) ? 6 : 4);
    d3.select(this).select("line").attr("y2", top ? -len : len);
  });
  return g;
}
// age axis
const yAxis = svg.append("g").attr("transform", "translate(205,0)")
  .call(d3.axisLeft(y).tickValues(ageMajorTicks).tickSize(8).tickPadding(6).tickSizeOuter(0)
        .tickFormat(d3.format("~g")));
styleAxis(yAxis);
const minorAges = d3.range(2.6, 6.0001, 0.05).filter(v => !has(ageMajorTicks, +v.toFixed(2)));
const yMinor = svg.append("g").attr("transform", "translate(205,0)")
  .call(d3.axisLeft(y).tickValues(minorAges).tickSize(4).tickFormat(""));
yMinor.select("path.domain").remove();
yMinor.selectAll(".tick text").remove();
styleAxis(yMinor);

hAxis(xA, false, 808, armTicks, armTicks, 11);
hAxis(xB, true, 97, sirmTicks, sirmLabels, 13);
hAxis(xC, false, 808, lfTicks, lfLabels, 11);
hAxis(xD, true, 97, d18oTicks, d18oLabels, 13);
hAxis(xE, false, 706, sstTicks, sstLabels, 21);
hAxis(xF, true, 99, amtTicks, amtLabels, 19, amtLabels);
hAxis(xG, false, 806, ampTicks, ampLabels, 19);
hAxis(xH, true, 95, rateTicks, rateLabels, 19, rateLabels);

// ---- records ----
function drawLine(data, xs, color, width) {
  svg.append("path").datum(data)
    .attr("fill", "none").attr("stroke", color).attr("stroke-width", width)
    .attr("stroke-linejoin", "round")
    .attr("d", d3.line().x(d => xs(d[1])).y(d => y(d[0])));
}
drawLine(lingtaiARM, xA, BLUE, 1.2);
drawLine(chaonaARM, xA, BLACK, 1.2);
drawLine(lingtaiSIRM, xB, BLUE, 1.2);
drawLine(chaonaSIRM, xB, BLACK, 1.2);
drawLine(lingtaiLF, xC, BLUE, 1.2);
drawLine(chaonaLF, xC, BLACK, 1.2);
drawLine(d18oRaw, xD, RED, 1.2);
drawLine(d18oMean, xD, RED, 3.6);
drawLine(sst, xE, RED, 1.2);
drawLine(chaonaAMT, xF, BLACK, 1.2);
drawLine(lingtaiAMT, xF, BLUE, 1.2);
drawLine(chaonaAMP, xG, BLACK, 1.2);
drawLine(lingtaiAMP, xG, BLUE, 1.2);

// step records
function stepPoints(segs) {
  const pts = [];
  segs.forEach(s => { pts.push([s[0], s[2]]); pts.push([s[1], s[2]]); });
  return pts;
}
drawLine(stepPoints(chaonaRate), xH, BLACK, 1.3);
drawLine(stepPoints(lingtaiRate), xH, BLUE, 1.3);

// ---- annotations ----
const defs = svg.append("defs");
defs.append("marker").attr("id", "arrowhead").attr("viewBox", "0 0 14 14")
  .attr("refX", 12.5).attr("refY", 7).attr("markerWidth", 14).attr("markerHeight", 14)
  .attr("markerUnits", "userSpaceOnUse").attr("orient", "auto")
  .append("path").attr("d", "M1.5,1.5 L12.5,7 L1.5,12.5")
  .attr("fill", "none").attr("stroke", BLACK).attr("stroke-width", 1.6);

const arrows = [
  { x1: 793, a1: 4.30, x2: 750, a2: 2.755 },
  { x1: 889, a1: 4.30, x2: 848, a2: 2.755 },
  { x1: 1017, a1: 4.26, x2: 1043, a2: 2.76 }
];
svg.append("g").selectAll("line").data(arrows).join("line")
  .attr("x1", d => d.x1).attr("y1", d => y(d.a1))
  .attr("x2", d => d.x2).attr("y2", d => y(d.a2))
  .attr("stroke", BLACK).attr("stroke-width", 1.4)
  .attr("marker-end", "url(#arrowhead)");

svg.append("text").attr("transform", "translate(877,279) rotate(83.5)")
  .attr("text-anchor", "middle").attr("dominant-baseline", "middle")
  .style("font-size", "19px").text("Monotonic cooling");
svg.append("text").attr("transform", "translate(1046,299) rotate(95)")
  .attr("text-anchor", "middle").attr("dominant-baseline", "middle")
  .style("font-size", "19px").text("Monotonic wetting");

// panel letters
const letters = [["A",269,794],["B",409,794],["C",533,794],["D",624,824],["E",749,662],["F",856,796],["G",1000,792],["H",1112,791]];
svg.append("g").selectAll("text").data(letters).join("text")
  .attr("x", d => d[1]).attr("y", d => d[2]).attr("text-anchor", "middle")
  .style("font-size", "20px").style("font-weight", "bold").text(d => d[0]);

// age label
svg.append("text").attr("transform", "translate(141,455) rotate(-90)")
  .attr("text-anchor", "middle").style("font-size", "26px").text("Age (Ma)");

// axis titles (with sub/superscripts)
function richText(x, yPos, size, parts, family) {
  const t = svg.append("text").attr("x", x).attr("y", yPos).attr("text-anchor", "middle")
    .style("font-size", size + "px");
  if (family) t.style("font-family", family);
  let shift = 0;
  parts.forEach(p => {
    const [str, kind] = typeof p === "string" ? [p, ""] : p;
    const target = kind === "sub" ? 0.28 * size : kind === "sup" ? -0.38 * size : 0;
    const ts = t.append("tspan").attr("dy", target - shift).text(str);
    ts.style("font-size", (kind ? 0.72 * size : size) + "px");
    shift = target;
  });
  return t;
}
richText(376, 45, 19, ["χ", ["ARM", "sub"], "/SIRM (10", ["-3", "sup"], " m A", ["-1", "sup"], ")"]);
richText(587, 46, 26, ["δ", ["18", "sup"], "O (", ["o", "sup"], "/", ["oo", "sub"], ")"], '"Liberation Serif", "Times New Roman", serif');
richText(833, 50, 19, ["AMT (°C)"]);
richText(1082, 45, 19, ["Sediment accumulation rate (m Myr", ["-1", "sup"], ")"]);
richText(260, 870, 24, ["χ", ["ARM", "sub"], " (10", ["-6", "sup"], " m", ["3", "sup"], " kg", ["-1", "sup"], ")"]);
richText(483, 874, 22, ["χ", ["ARM", "sub"], "/χ", ["LF", "sub"]]);
richText(732, 773, 19, ["SST (°C)"]);
richText(975, 867, 19, ["AMP (mm)"]);

// legend
const legendItems = [["Chaona", BLACK, 309], ["Lingtai", BLUE, 548], ["Pacific Ocean", RED, 795]];
const lg = svg.append("g").selectAll("g").data(legendItems).join("g");
lg.append("line").attr("x1", d => d[2]).attr("x2", d => d[2] + 52).attr("y1", 907).attr("y2", 907)
  .attr("stroke", d => d[1]).attr("stroke-width", 2);
lg.append("text").attr("x", d => d[2] + 64).attr("y", 914).style("font-size", "19px")
  .style("fill", d => d[1]).text(d => d[0]);

// caption
const GRAY = "#9b9b9b";
const captionLines = [
  { w: 1313, parts: [["FIGURE 9 | Paleoclimatic and paleoceanographic data for the time interval 6–2.6 Ma.", "b"], [" Modified from "], ["Nie et al. (2014b)", "g"], [". "], ["(A–C)", "b"], [" The Chaona (black) and Lingtai"]] },
  { w: 1313, parts: [["(blue) χ"], ["ARM", "sub"], [", χ"], ["ARM", "sub"], ["/SIRM and"], ["χ"], ["ARM", "sub"], ["/χ"], ["LF", "sub"], [" records, respectively. "], ["(D,E)", "b"], [" East Equatorial Pacific Ocean Drilling Project (ODP) site 846 benthic oxygen isotope ("], ["Shackleton", "g"]] },
  { w: 1226, parts: [["et al., 1995", "g"], [") and sea surface temperature ("], ["Lawrence et al., 2006", "g"], [") records respectively. "], ["(F,G)", "b"], [" Reconstructed Chaona (black) and Lingtai (blue) annual mean"]] },
  { w: 1036, parts: [["temperature (AMT) and annual mean precipitation (AMP) records. "], ["(H)", "b"], [" Chaona (black) and Lingtai (blue) sedimentation rate records."]] }
];
captionLines.forEach((line, i) => {
  const t = svg.append("text").attr("x", 22).attr("y", 974 + i * 25)
    .attr("textLength", line.w).attr("lengthAdjust", "spacingAndGlyphs")
    .style("font-family", '"Liberation Sans Narrow", "Arial Narrow", "Liberation Sans", sans-serif')
    .style("font-size", "17px").style("fill", "#2a2a2a");
  let shifted = false;
  line.parts.forEach(([str, kind]) => {
    const ts = t.append("tspan").text(str).style("font-size", kind === "sub" ? "13px" : "17px");
    if (kind === "b") ts.style("font-weight", "bold");
    if (kind === "g") ts.style("fill", GRAY);
    if (kind === "sub") { ts.attr("dy", 4); shifted = true; }
    else if (shifted) { ts.attr("dy", -4); shifted = false; }
  });
});
</script>
</body>
</html>
